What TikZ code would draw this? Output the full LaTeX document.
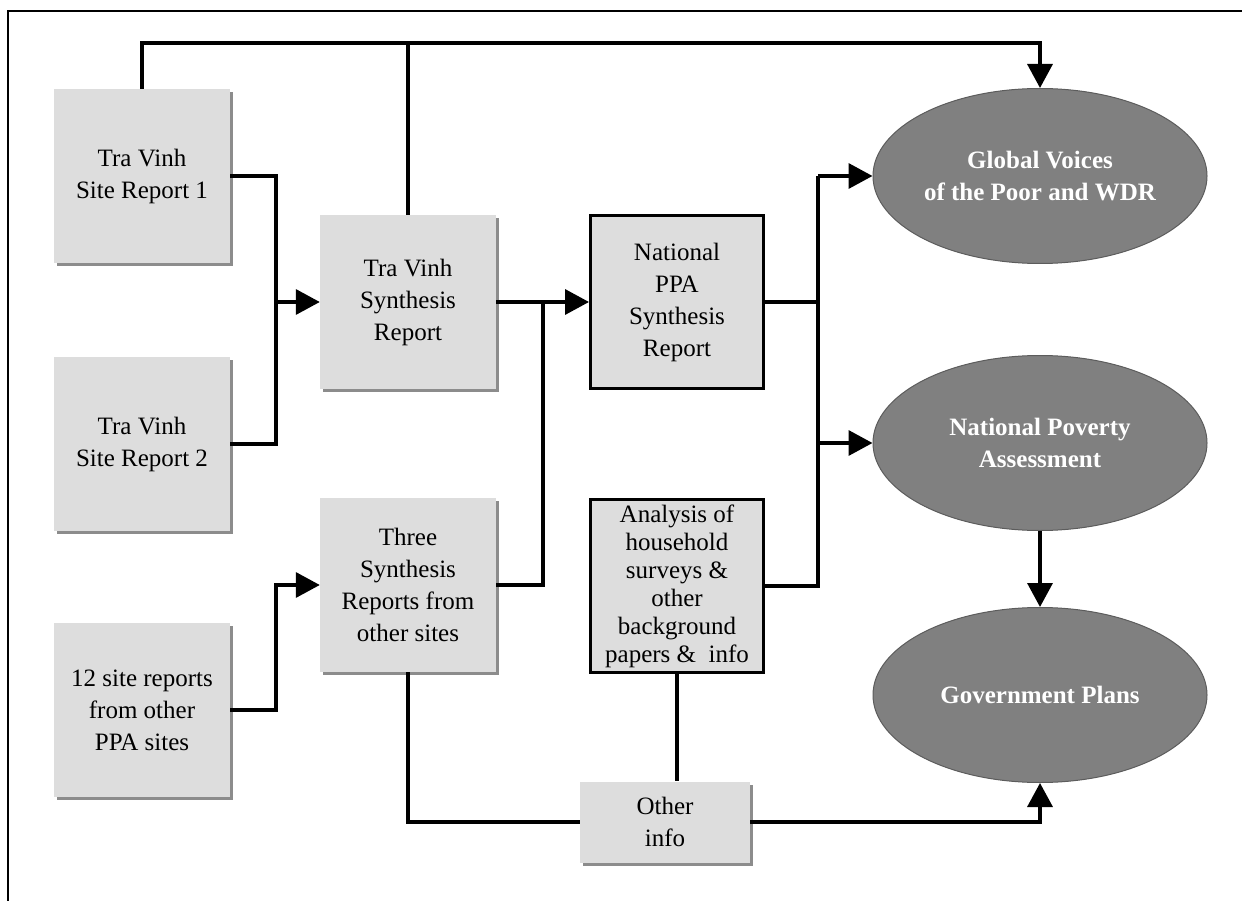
\documentclass[tikz,border=0pt]{standalone}
\usepackage{fontspec}
\setmainfont{Liberation Serif}
\usetikzlibrary{arrows.meta,shapes.geometric,shadows}
\definecolor{boxgray}{HTML}{DDDDDD}
\definecolor{shadegray}{HTML}{8C8C8C}
\definecolor{ovalgray}{HTML}{808080}
\definecolor{ovaledge}{HTML}{5C5C5C}

\begin{document}
\begin{tikzpicture}[x=1pt,y=-1pt,
		report/.style={fill=boxgray, inner sep=0pt, align=center, minimum width=176pt, minimum height=174pt, font=\fontsize{25}{32}\selectfont, drop shadow={shadow xshift=3pt, shadow yshift=-3pt, fill=shadegray, opacity=1}},
		national/.style={fill=boxgray, draw=black, line width=3pt, inner sep=0pt, align=center, minimum width=173pt, minimum height=173pt, font=\fontsize{25}{32}\selectfont},
		outcome/.style={ellipse, fill=ovalgray, draw=ovaledge, line width=1pt, inner sep=0pt, align=center, minimum width=334pt, minimum height=175pt, text=white, font=\fontsize{25}{32}\selectfont\bfseries},
		link/.style={line width=3.5pt},
		flow/.style={line width=3.5pt, -{Triangle[length=24pt,width=25pt]}}]
	\useasboundingbox (0,0) rectangle (1242,901);
	\draw [line width=1.5pt] (8,901) -- (8,11) -- (1242,11);
	\node [report] (tv1) at (142,176) {Tra Vinh\\Site Report 1};
	\node [report] (tv2) at (142,444) {Tra Vinh\\Site Report 2};
	\node [report] (sites) at (142,710) {12 site reports\\from other\\PPA sites};
	\node [report] (tvsyn) at (408,302) {Tra Vinh\\Synthesis\\Report};
	\node [report] (three) at (408,585) {Three\\Synthesis\\Reports from\\other sites};
	\node [national] (natl) at (677,302) {National\\PPA\\Synthesis\\Report};
	\node [national, font=\fontsize{25}{28}\selectfont] (analysis) at (677,586) {Analysis of\\household\\surveys \&\\other\\background\\papers \& ~info};
	\node [report, minimum width=170pt, minimum height=81pt] (other) at (665,822) {Other\\info};
	\node [outcome] (glob) at (1040,176) {Global Voices\\of the Poor and WDR};
	\node [outcome] (npa) at (1040,443) {National Poverty\\Assessment};
	\node [outcome] (gov) at (1040,695) {Government Plans};
	\coordinate (topline) at (0,43);
	\coordinate (jA) at (276,0);
	\coordinate (jB) at (543,0);
	\coordinate (jC) at (818,0);
	\draw [flow] (tv1.north) |- (glob.north |- topline) -- (glob.north);
	\draw [link] (tvsyn.north) -- (tvsyn.north |- topline);
	\draw [link] (tv1.east) -| (jA |- tv2.east) -- (tv2.east);
	\draw [flow] (jA |- tvsyn.west) -- (tvsyn.west);
	\draw [flow] (sites.east) -| (jA |- three.west) -- (three.west);
	\draw [flow] (tvsyn.east) -- (natl.west);
	\draw [link] (three.east) -| (jB |- natl.west);
	\draw [link] (natl.east) -- (jC |- natl.east);
	\draw [link] (analysis.east) -| (jC |- glob.west);
	\draw [flow] (jC |- glob.west) -- (glob.west);
	\draw [flow] (jC |- npa.west) -- (npa.west);
	\draw [flow] (npa.south) -- (gov.north);
	\draw [link] (analysis.south) -- (analysis.south |- other.north);
	\draw [link] (three.south) |- (other.west);
	\draw [flow] (other.east) -| (gov.south);
\end{tikzpicture}
\end{document}
